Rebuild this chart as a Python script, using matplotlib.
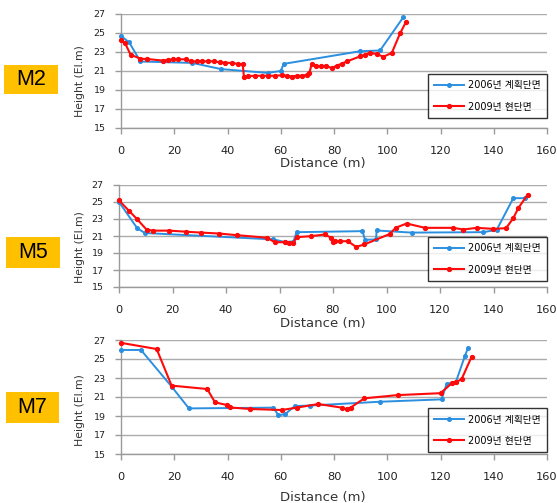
import matplotlib
matplotlib.use("Agg")
import matplotlib.pyplot as plt
from matplotlib.patches import Rectangle

plt.rcParams['font.family'] = ['DejaVu Sans', 'Noto Sans CJK KR']

# ---------------- data ----------------
labels = ["2006년 계획단면", "2009년 현단면"]
panel_names = ["M2", "M5", "M7"]

m2_blue_x = [0, 3.1, 7.3, 26.8, 37.6, 55.1, 60.0, 61.1, 89.8, 97.3, 106.0]
m2_blue_y = [24.7, 24.0, 22.0, 21.85, 21.2, 20.8, 21.0, 21.75, 23.08, 23.16, 26.65]
m2_red_x = [0, 1.5, 3.6, 7.25, 9.9, 15.6, 17.8, 19.6, 21.5, 24.3, 26.3, 28.4, 30.5, 32.8, 35.0,
            37.2, 39.1, 41.6, 44.1, 45.7, 46.2, 47.8, 50.3, 52.8, 55.3, 57.8, 60.3, 62.2, 64.1,
            66.0, 67.9, 69.7, 70.7, 71.6, 73.2, 75.0, 77.0, 79.1, 81.0, 82.9, 84.8, 89.8, 91.6,
            93.5, 96.0, 98.5, 101.7, 104.8, 107.0]
m2_red_y = [24.25, 23.95, 22.72, 22.3, 22.26, 22.1, 22.19, 22.23, 22.23, 22.23, 22.02, 22.02,
            22.02, 22.02, 22.02, 21.9, 21.88, 21.84, 21.74, 21.7, 20.37, 20.47, 20.5, 20.5, 20.5,
            20.5, 20.55, 20.5, 20.42, 20.5, 20.5, 20.6, 20.75, 21.7, 21.56, 21.5, 21.56, 21.3,
            21.56, 21.77, 22.0, 22.54, 22.72, 22.9, 22.8, 22.5, 22.9, 24.95, 26.15]

m5_blue_x = [0, 6.85, 9.7, 57.7, 62.0, 65.2, 66.4, 91.0, 92.0, 96.1, 96.3, 109.4, 136.2, 141.2,
             147.4, 151.8]
m5_blue_y = [25.0, 21.9, 21.35, 20.6, 20.3, 20.35, 21.45, 21.57, 20.55, 20.6, 21.65, 21.4,
             21.45, 21.73, 25.45, 25.45]
m5_red_x = [0, 3.9, 6.6, 10.3, 12.8, 18.8, 24.9, 30.7, 37.5, 44.0, 55.2, 58.3, 62.0, 63.7, 65.2,
            66.4, 71.7, 77.0, 79.1, 80.1, 80.9, 82.8, 85.6, 88.6, 91.7, 101.3, 103.4, 107.5,
            114.4, 125.0, 128.7, 133.7, 139.9, 144.7, 147.4, 149.3, 152.8]
m5_red_y = [25.2, 23.9, 23.04, 21.75, 21.63, 21.63, 21.51, 21.4, 21.29, 21.1, 20.8, 20.27, 20.27,
            20.2, 20.2, 20.86, 20.98, 21.18, 20.82, 20.27, 20.39, 20.39, 20.39, 19.72, 20.0,
            21.25, 21.96, 22.47, 21.96, 21.96, 21.76, 21.96, 21.84, 21.92, 23.1, 24.3, 25.88]

m7_blue_x = [0, 7.5, 19.0, 25.5, 57.2, 59.1, 61.6, 65.3, 71.0, 97.2, 120.4, 122.3, 125.8, 129.2,
             130.4]
m7_blue_y = [25.95, 25.95, 22.1, 19.8, 19.88, 19.1, 19.18, 20.05, 20.1, 20.5, 20.75, 22.37,
             22.6, 25.35, 26.2]
m7_red_x = [0, 13.4, 19.0, 32.4, 35.3, 39.7, 40.9, 48.4, 60.3, 66.0, 74.1, 82.9, 84.7, 86.2,
            91.4, 103.9, 120.0, 124.2, 126.0, 127.9, 131.7]
m7_red_y = [26.7, 26.05, 22.2, 21.84, 20.44, 20.16, 19.9, 19.74, 19.63, 19.88, 20.26, 19.88,
            19.7, 19.88, 20.86, 21.2, 21.4, 22.44, 22.6, 22.86, 25.25]

x_ticks = [0, 20, 40, 60, 80, 100, 120, 140, 160]
y_ticks = [15, 17, 19, 21, 23, 25, 27]

panels = [
    (m2_blue_x, m2_blue_y, m2_red_x, m2_red_y),
    (m5_blue_x, m5_blue_y, m5_red_x, m5_red_y),
    (m7_blue_x, m7_blue_y, m7_red_x, m7_red_y),
]

# ---------------- layout (pixels) ----------------
W, H = 557, 503
axes_px = [(121, 14, 547, 128), (119, 185, 547, 287), (121, 340, 547, 454)]
xlabel_y = [164, 323, 497]
ylabel_y = [81, 247, 410]
boxes = [(4, 65, 58, 94), (6, 237, 60, 268), (6, 392, 59, 423)]
legend_bottom_gap = [10, 6, 2]

BLUE = "#2B8FE0"
RED = "#FF0A0A"
GRID = "#ABABAB"

fig = plt.figure(figsize=(W / 100, H / 100), dpi=100)

for i, (bx, by, rx, ry) in enumerate(panels):
    l, t, r, b = axes_px[i]
    ax = fig.add_axes([l / W, 1 - b / H, (r - l) / W, (b - t) / H])
    ax.plot(bx, by, color=BLUE, lw=1.4, marker='o', ms=2.6, label=labels[0], zorder=3)
    ax.plot(rx, ry, color=RED, lw=1.5, marker='o', ms=2.8, label=labels[1], zorder=4)
    ax.set_xlim(0, 160)
    ax.set_ylim(15, 27)
    ax.set_xticks(x_ticks)
    ax.set_yticks(y_ticks)
    ax.yaxis.grid(True, color=GRID, lw=1.0)
    ax.set_axisbelow(True)
    for s in ['top', 'right']:
        ax.spines[s].set_visible(False)
    for s in ['left', 'bottom']:
        ax.spines[s].set_color("#9A9A9A")
        ax.spines[s].set_linewidth(1.0)
    ax.tick_params(axis='x', direction='out', length=4, width=1, color="#9A9A9A",
                   labelsize=8.2, pad=9, labelcolor="#222222")
    ax.tick_params(axis='y', direction='out', length=4, width=1, color="#9A9A9A",
                   labelsize=6.8, pad=7, labelcolor="#222222")
    for ln in ax.lines:
        ln.set_clip_on(False)
    leg = ax.legend(loc='lower right',
                    bbox_to_anchor=(1.0, legend_bottom_gap[i] / (b - t)),
                    borderaxespad=0, frameon=True, fancybox=False,
                    fontsize=7, handlelength=3.0, handletextpad=0.45,
                    labelspacing=1.15, borderpad=0.65)
    leg.get_frame().set_edgecolor("black")
    leg.get_frame().set_linewidth(1.0)

    fig.text(323 / W, 1 - xlabel_y[i] / H, "Distance (m)", ha='center', va='center',
             fontsize=9.5, color="#333333")
    fig.text(80 / W, 1 - ylabel_y[i] / H, "Height (El.m)", ha='center', va='center',
             rotation=90, fontsize=7.8, color="#333333")

    x0, y0, x1, y1 = boxes[i]
    fig.patches.append(Rectangle((x0 / W, 1 - y1 / H), (x1 - x0) / W, (y1 - y0) / H,
                                 transform=fig.transFigure, facecolor="#FFC000",
                                 edgecolor='none'))
    fig.text((x0 + x1) / 2 / W, 1 - (y0 + y1) / 2 / H, panel_names[i], ha='center',
             va='center', fontsize=15.5, family='Liberation Sans', color='black')

fig.savefig("out.png", dpi=100)
